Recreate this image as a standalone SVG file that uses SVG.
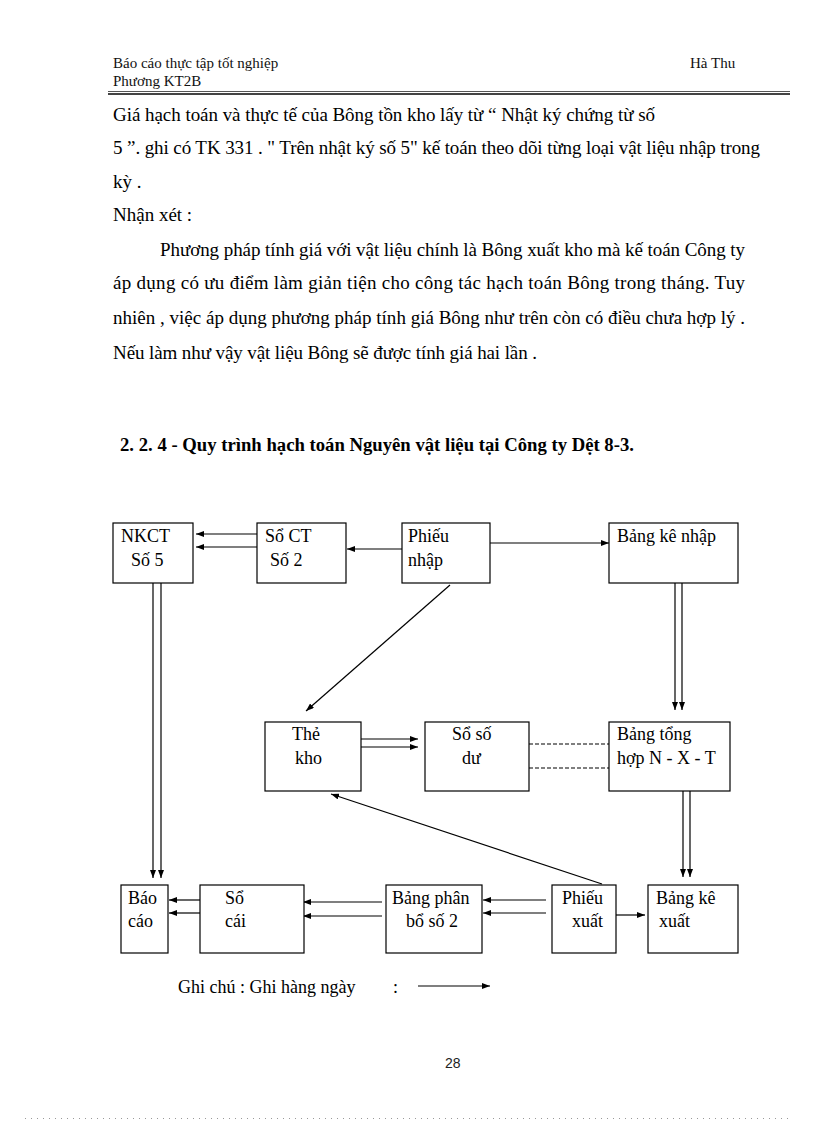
<svg xmlns="http://www.w3.org/2000/svg" width="816" height="1123" viewBox="0 0 816 1123">
<style>
.hd{font-family:"Liberation Serif","Times New Roman",serif;font-size:15px;fill:#111}
.bd{font-family:"Liberation Serif","Times New Roman",serif;font-size:19px;fill:#000}
.h2{font-family:"Liberation Serif","Times New Roman",serif;font-size:18.7px;font-weight:bold;fill:#000}
.nt{font-family:"Liberation Serif","Times New Roman",serif;font-size:18px;fill:#000}
.box{fill:#fff;stroke:#000;stroke-width:1.2}
.ln{stroke:#000;stroke-width:1.2;fill:none}
.ar{stroke:#000;stroke-width:1.2;fill:none;marker-end:url(#ah)}
.ds{stroke:#000;stroke-width:1.1;fill:none;stroke-dasharray:4 2}
.pg{font-family:"Liberation Sans",Arial,sans-serif;font-size:14px;fill:#222}
</style>
<defs>
<marker id="ah" viewBox="0 0 8 6" refX="8" refY="3" markerWidth="8" markerHeight="6" markerUnits="userSpaceOnUse" orient="auto">
<path d="M0,0 L8,3 L0,6 Z" fill="#000"/>
</marker>
</defs>
<rect width="816" height="1123" fill="#fff"/>

<g id="header">
<text class="hd" x="113" y="68">Báo cáo thực tập tốt nghiệp</text>
<text class="hd" x="690" y="68">Hà Thu</text>
<text class="hd" x="113" y="86">Phương KT2B</text>
<line x1="108" y1="91.5" x2="790" y2="91.5" stroke="#555" stroke-width="1"/>
<line x1="108" y1="94" x2="790" y2="94" stroke="#444" stroke-width="2"/>
</g>

<g id="body">
<text class="bd" x="113" y="121" textLength="542" lengthAdjust="spacing">Giá hạch toán và thực tế của Bông tồn kho lấy từ “ Nhật ký chứng từ số</text>
<text class="bd" x="113" y="154" textLength="647" lengthAdjust="spacing">5 ”. ghi có TK 331 . " Trên nhật ký số 5" kế toán theo dõi từng loại vật liệu nhập trong</text>
<text class="bd" x="113" y="188">kỳ .</text>
<text class="bd" x="113" y="221">Nhận xét :</text>
<text class="bd" x="160" y="256" textLength="585" lengthAdjust="spacing">Phương pháp tính giá với vật liệu chính là Bông xuất kho mà kế toán Công ty</text>
<text class="bd" x="113" y="289" textLength="632" lengthAdjust="spacing">áp dụng có ưu điểm làm giản tiện cho công tác hạch toán Bông trong tháng. Tuy</text>
<text class="bd" x="113" y="324" textLength="632" lengthAdjust="spacing">nhiên , việc áp dụng phương pháp tính giá Bông như trên còn có điều chưa hợp lý .</text>
<text class="bd" x="113" y="359" textLength="424" lengthAdjust="spacing">Nếu làm như vậy vật liệu Bông sẽ được tính giá hai lần .</text>
<text class="h2" x="120" y="451">2. 2. 4 - Quy trình hạch toán Nguyên vật liệu tại Công ty Dệt 8-3.</text>
</g>

<g id="connectors">
<line class="ar" x1="257" y1="534" x2="196" y2="534"/>
<line class="ar" x1="257" y1="547" x2="196" y2="547"/>
<line class="ar" x1="402" y1="549" x2="347" y2="549"/>
<line class="ar" x1="490" y1="543" x2="609" y2="543"/>
<line class="ar" x1="450" y1="585" x2="306" y2="711"/>
<line class="ar" x1="675" y1="583" x2="675" y2="710"/>
<line class="ar" x1="682" y1="583" x2="682" y2="710"/>
<line class="ar" x1="361" y1="739" x2="418" y2="739"/>
<line class="ar" x1="361" y1="747" x2="418" y2="747"/>
<line class="ds" x1="529" y1="744" x2="609" y2="744"/>
<line class="ds" x1="529" y1="768" x2="609" y2="768"/>
<line class="ar" x1="683" y1="791" x2="683" y2="877"/>
<line class="ar" x1="690" y1="791" x2="690" y2="877"/>
<line class="ar" x1="153" y1="583" x2="153" y2="878"/>
<line class="ar" x1="161" y1="583" x2="161" y2="878"/>
<line class="ar" x1="602" y1="884" x2="331" y2="794"/>
<line class="ar" x1="546" y1="900" x2="483" y2="900"/>
<line class="ar" x1="546" y1="913" x2="483" y2="913"/>
<line class="ar" x1="382" y1="902" x2="303" y2="902"/>
<line class="ar" x1="382" y1="916" x2="303" y2="916"/>
<line class="ar" x1="200" y1="900" x2="169" y2="900"/>
<line class="ar" x1="200" y1="913" x2="169" y2="913"/>
<line class="ar" x1="613" y1="915" x2="645" y2="915"/>
</g>

<g id="nkct">
<rect class="box" x="113" y="523" width="80" height="60"/>
<text class="nt" x="121" y="542">NKCT</text>
<text class="nt" x="131" y="566">Số 5</text>
</g>
<g id="soct">
<rect class="box" x="257" y="523" width="89" height="60"/>
<text class="nt" x="265" y="542">Sổ CT</text>
<text class="nt" x="270" y="566">Số 2</text>
</g>
<g id="phieunhap">
<rect class="box" x="402" y="523" width="88" height="60"/>
<text class="nt" x="408" y="542">Phiếu</text>
<text class="nt" x="408" y="566">nhập</text>
</g>
<g id="bangkenhap">
<rect class="box" x="609" y="523" width="129" height="60"/>
<text class="nt" x="617" y="542">Bảng kê nhập</text>
</g>
<g id="thekho">
<rect class="box" x="265" y="722" width="96" height="69"/>
<text class="nt" x="292" y="740">Thẻ</text>
<text class="nt" x="295" y="764">kho</text>
</g>
<g id="sosodu">
<rect class="box" x="425" y="722" width="104" height="69"/>
<text class="nt" x="452" y="740">Sổ số</text>
<text class="nt" x="462" y="764">dư</text>
</g>
<g id="bangtonghop">
<rect class="box" x="609" y="722" width="121" height="69"/>
<text class="nt" x="617" y="740">Bảng tổng</text>
<text class="nt" x="617" y="764">hợp N - X - T</text>
</g>
<g id="baocao">
<rect class="box" x="121" y="885" width="47" height="68"/>
<text class="nt" x="128" y="904">Báo</text>
<text class="nt" x="128" y="927">cáo</text>
</g>
<g id="socai">
<rect class="box" x="200" y="885" width="104" height="68"/>
<text class="nt" x="225" y="904">Sổ</text>
<text class="nt" x="225" y="927">cái</text>
</g>
<g id="bangphanbo">
<rect class="box" x="386" y="885" width="96" height="68"/>
<text class="nt" x="392" y="904">Bảng phân</text>
<text class="nt" x="406" y="927">bổ số 2</text>
</g>
<g id="phieuxuat">
<rect class="box" x="552" y="885" width="64" height="68"/>
<text class="nt" x="562" y="904">Phiếu</text>
<text class="nt" x="572" y="927">xuất</text>
</g>
<g id="bangkexuat">
<rect class="box" x="648" y="885" width="90" height="68"/>
<text class="nt" x="656" y="904">Bảng kê</text>
<text class="nt" x="659" y="927">xuất</text>
</g>

<g id="legend">
<text class="nt" x="178" y="993">Ghi chú : Ghi hàng ngày</text>
<text class="nt" x="393" y="993">:</text>
<line class="ar" x1="418" y1="986" x2="490" y2="986"/>
</g>

<g id="footer">
<text class="pg" x="445" y="1068">28</text>
<line x1="25" y1="1118.5" x2="790" y2="1118.5" stroke="#999" stroke-width="1" stroke-dasharray="1 5"/>
</g>
</svg>
